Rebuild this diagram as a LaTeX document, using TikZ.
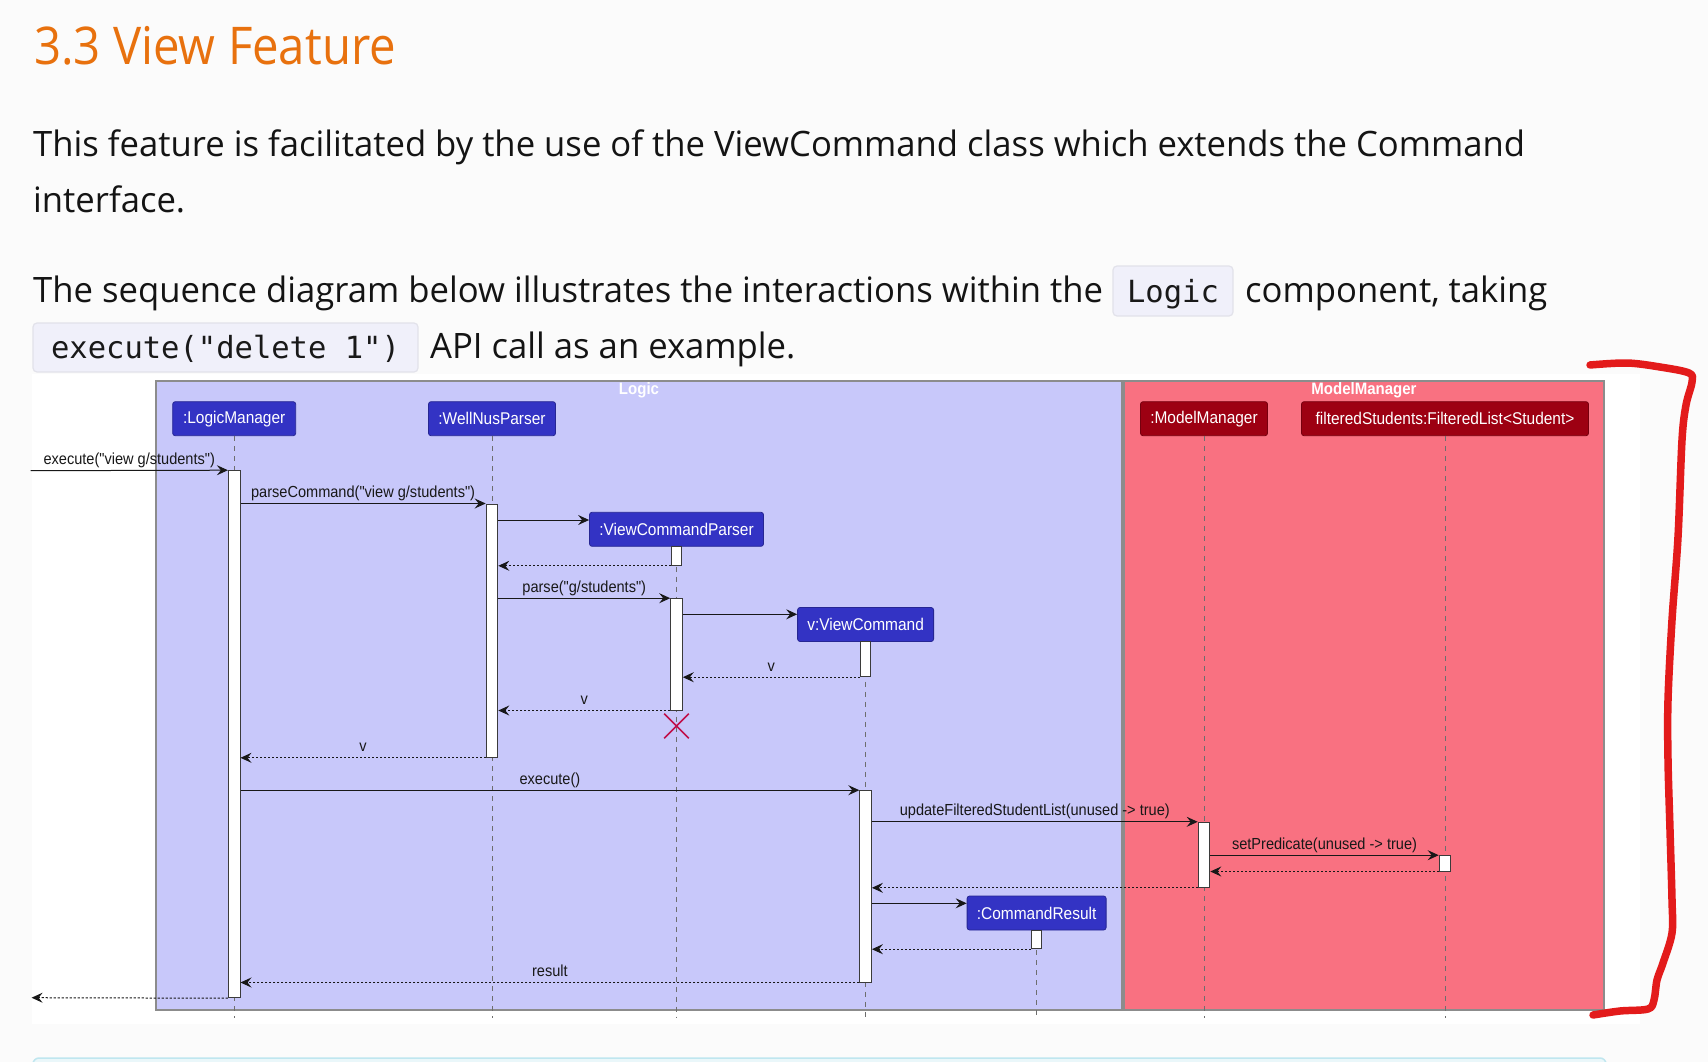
\documentclass[tikz,border=0pt]{standalone}
\usepackage{fontspec}
\newfontfamily\pagefont[FakeStretch=0.99]{Open Sans}
\newfontfamily\headfont[FakeStretch=0.91]{Open Sans}
\newfontfamily\umlfont[FakeStretch=0.91]{Liberation Sans}
\newfontfamily\codefont{DejaVu Sans Mono}
\usetikzlibrary{arrows.meta,positioning,fit,shapes.misc}
\definecolor{logicblue}{HTML}{3333C4}
\definecolor{logicsoft}{HTML}{C8C8FA}
\definecolor{modelred}{HTML}{9D0012}
\definecolor{modelsoft}{HTML}{F97181}
\definecolor{headorange}{HTML}{E8710E}
\definecolor{ink}{HTML}{181818}
\definecolor{lifegray}{HTML}{6E6E6E}
\definecolor{framegray}{HTML}{8C8C8C}
\definecolor{destroyred}{HTML}{C0104A}
\definecolor{codebg}{HTML}{F0F0FA}
\definecolor{codeline}{HTML}{E2E2EA}
\definecolor{pagebg}{HTML}{FBFBFB}
\definecolor{markred}{HTML}{E31B1B}
\definecolor{calloutline}{HTML}{BFE6EF}
\definecolor{calloutfill}{HTML}{EAF7FA}
\tikzset{
  pagetext/.style={anchor=base west,inner sep=0pt,text=black!92,
    font=\pagefont\fontsize{35}{42}\selectfont},
  codebox/.style={rounded corners=4pt,draw=codeline,fill=codebg,line width=1.2pt,
    inner sep=0pt,text=black!90,font=\codefont\fontsize{30.5}{36}\selectfont,
    text height=28pt,text depth=6pt},
  frame/.style={draw=framegray,line width=1.2pt,inner sep=0pt},
  logicframe/.style={frame,fill=logicsoft},
  modelframe/.style={frame,fill=modelsoft},
  frametitle/.style={inner sep=0pt,text=white,font=\umlfont\bfseries\fontsize{16.5}{19}\selectfont},
  part/.style={rectangle,rounded corners=2.5pt,text=white,minimum height=34pt,
    inner sep=0pt,line width=0.8pt,font=\umlfont\fontsize{17}{20}\selectfont},
  lpart/.style={part,fill=logicblue,draw=logicblue!75!black},
  mpart/.style={part,fill=modelred,draw=modelred!75!black},
  lifeline/.style={draw=lifegray,line width=1pt,dash pattern=on 5pt off 5pt},
  act/.style={rectangle,draw=ink!85,fill=white,line width=1pt,inner sep=0pt},
  msg/.style={-{Stealth[length=11pt,width=10pt,inset=4pt]},draw=ink,line width=1pt},
  ret/.style={msg,dash pattern=on 2.2pt off 1.8pt},
  lbl/.style={midway,above=2pt,inner sep=0pt,text=ink,text height=12pt,text depth=3.5pt,
    font=\umlfont\fontsize{16}{18}\selectfont},
  destroy/.style={cross out,draw=destroyred,line width=1.7pt,minimum size=23pt,inner sep=0pt},
  marker/.style={draw=markred,line width=7.5pt,line cap=round,line join=round},
}
\begin{document}
\begin{tikzpicture}[x=1pt,y=-1pt]
\useasboundingbox (0,0) rectangle (1708,1062);
\clip (0,0) rectangle (1708,1062);
\fill[pagebg] (0,0) rectangle (1708,1062);
\fill[white] (32,374) rectangle (1640,1024);
% page text
\node[pagetext,text=headorange,font=\headfont\fontsize{52}{60}\selectfont] (title) at (34,65) {3.3 View Feature};
\node[pagetext] (intro1) at (33,157) {This feature is facilitated by the use of the ViewCommand class which extends the Command};
\node[pagetext] (intro2) at (33,212) {interface.};
\node[pagetext] (seq1) at (33,302.3) {The sequence diagram below illustrates the interactions within the};
\node[codebox,minimum width=120pt,minimum height=50pt] (codeLogic) at (1173,291) {Logic};
\node[pagetext] (seq2) at (1245,302.3) {component, taking};
\node[codebox,minimum width=385pt,minimum height=49pt] (codeExec) at (225.5,347.5) {execute("delete 1")};
\node[pagetext] (seq3) at (430,358.3) {API call as an example.};
% frames
\node[logicframe,fit={(156,381) (1122,1010)}] (fLogic) {};
\node[modelframe,fit={(1124,381) (1604,1010)}] (fModel) {};
\node[frametitle,below=2pt of fLogic.north] (tLogic) {Logic};
\node[frametitle,below=2pt of fModel.north] (tModel) {ModelManager};
% participants
\node[lpart,minimum width=123pt] (pLM) at (234.2,418.7) {:LogicManager};
\node[lpart,minimum width=127pt] (pWP) at (492,418.7) {:WellNusParser};
\node[lpart,minimum width=174pt] (pVCP) at (676.5,529.3) {:ViewCommandParser};
\node[lpart,minimum width=136pt] (pVC) at (865.6,624.5) {v:ViewCommand};
\node[lpart,minimum width=139pt] (pCR) at (1036.6,913) {:CommandResult};
\node[mpart,minimum width=127pt] (pMM) at (1204,418.7) {:ModelManager};
\node[mpart,minimum width=287pt] (pFS) at (1445,418.7) {filteredStudents:FilteredList<Student>};
\foreach \p in {pLM,pWP,pVCP,pVC,pCR,pMM,pFS}
  \draw[lifeline] (\p.south) -- (\p.south |- 0,1018);
% activations
\node[act,fit={(228.4,470.7) (240,997.7)}] (aLM) {};
\node[act,fit={(486.2,504) (497.8,757.3)}] (aWP) {};
\node[act,fit={(671.2,546) (681.8,565.3)}] (aVCP1) {};
\node[act,fit={(670.7,598.7) (682.3,710)}] (aVCP2) {};
\node[act,fit={(860.3,641.7) (870.9,676.7)}] (aVC1) {};
\node[act,fit={(859.8,790.7) (871.4,982)}] (aVC2) {};
\node[act,fit={(1198.2,822.3) (1209.8,887.3)}] (aMM) {};
\node[act,fit={(1439.2,855.7) (1450.8,871)}] (aFS) {};
\node[act,fit={(1031.3,930) (1041.9,948.7)}] (aCR) {};
% messages
\coordinate (inL) at (30.6,470.7);
\coordinate (outL) at (31.6,997.7);
\draw[msg] (inL) -- (aLM.north west) node[lbl] {execute("view g/students")};
\draw[msg] (aLM.east |- aWP.north) -- (aWP.north west) node[lbl] {parseCommand("view g/students")};
\draw[msg] (aWP.east |- 0,520) -- (pVCP.west |- 0,520);
\draw[ret] (aVCP1.south west) -- (aWP.east |- aVCP1.south);
\draw[msg] (aWP.east |- aVCP2.north) -- (aVCP2.north west) node[lbl] {parse("g/students")};
\draw[msg] (aVCP2.east |- 0,614.3) -- (pVC.west |- 0,614.3);
\draw[ret] (aVC1.south west) -- (aVCP2.east |- aVC1.south) node[lbl] {v};
\draw[ret] (aVCP2.south west) -- (aWP.east |- aVCP2.south) node[lbl] {v};
\node[destroy] (xVCP) at (676.5,726) {};
\draw[ret] (aWP.south west) -- (aLM.east |- aWP.south) node[lbl] {v};
\draw[msg] (aLM.east |- aVC2.north) -- (aVC2.north west) node[lbl] {execute()};
\draw[msg] (aVC2.east |- aMM.north) -- (aMM.north west) node[lbl] {updateFilteredStudentList(unused -> true)};
\draw[msg] (aMM.east |- aFS.north) -- (aFS.north west) node[lbl] {setPredicate(unused -> true)};
\draw[ret] (aFS.south west) -- (aMM.east |- aFS.south);
\draw[ret] (aMM.south west) -- (aVC2.east |- aMM.south);
\draw[msg] (aVC2.east |- 0,903.3) -- (pCR.west |- 0,903.3);
\draw[ret] (aCR.south west) -- (aVC2.east |- aCR.south);
\draw[ret] (aVC2.south west) -- (aLM.east |- aVC2.south) node[lbl] {result};
\draw[ret] (aLM.south west) -- (outL);
% hand-drawn bracket
\draw[marker] plot[smooth,tension=0.55] coordinates {(1590,365) (1627,363) (1660,367) (1689,373)
  (1692,382) (1686,405) (1682,440) (1678,537) (1672,620) (1668,700) (1668,760) (1670,830)
  (1672,900) (1672,933) (1663,963) (1657,980) (1654,1000) (1648,1009) (1620,1011) (1593,1015)};
% next box
\draw[draw=calloutline,fill=calloutfill,line width=1.5pt,rounded corners=6pt] (33,1058) rectangle (1606,1120);
\end{tikzpicture}
\end{document}
